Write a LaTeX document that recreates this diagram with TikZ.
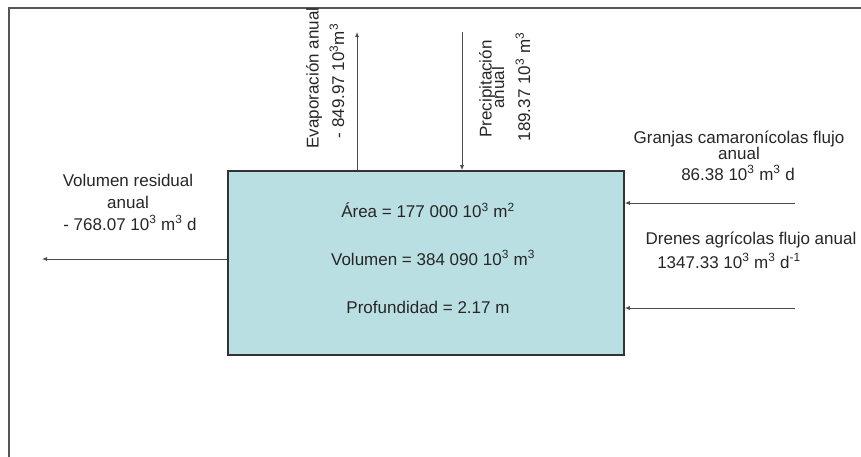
\documentclass[tikz,border=0pt]{standalone}
\usepackage{fontspec}
\setmainfont{Liberation Sans}
\usetikzlibrary{arrows.meta}
\definecolor{boxfill}{HTML}{B9DFE3}
\definecolor{framec}{HTML}{555555}
\begin{document}
\begin{tikzpicture}[x=1pt,y=-1pt,
  lbl/.style={inner sep=0pt,font=\fontsize{17}{19}\selectfont,text=black!85},
  flow/.style={draw=black!70,line width=0.8pt,-{Latex[length=5pt,width=4pt]}}]
\useasboundingbox (0,0) rectangle (861,457);
\draw[framec,line width=1.5pt] (9,457) -- (9,8) -- (861,8);
\node[draw=black!80,line width=1.5pt,fill=boxfill,minimum width=396pt,minimum height=184pt,inner sep=0pt] (box) at (426,263) {};
\node[lbl] (area) at (428,210) {Área = 177 000 10\textsuperscript{3} m\textsuperscript{2}};
\node[lbl] (vol) at (433,258) {Volumen = 384 090 10\textsuperscript{3} m\textsuperscript{3}};
\node[lbl] (prof) at (428,307) {Profundidad = 2.17 m};
% evaporation
\coordinate (evtop) at (357,32);
\draw[flow] (box.north -| evtop) -- (evtop);
\node[lbl,rotate=90] (ev1) at (314,78) {Evaporación anual};
\node[lbl,rotate=90] (ev2) at (337,81) {- 849.97 10\textsuperscript{3}m\textsuperscript{3}};
% precipitation
\coordinate (prtop) at (462,32);
\draw[flow] (prtop) -- (box.north -| prtop);
\node[lbl,rotate=90] (pr1) at (487,89) {Precipitación};
\node[lbl,rotate=90] (pr2) at (498,88) {anual};
\node[lbl,rotate=90] (pr3) at (523,87) {189.37 10\textsuperscript{3} m\textsuperscript{3}};
% residual
\coordinate (resend) at (42,259);
\draw[flow] (box.west |- resend) -- (resend);
\node[lbl] (res1) at (128,180) {Volumen residual};
\node[lbl] (res2) at (128,202) {anual};
\node[lbl] (res3) at (130,223) {- 768.07 10\textsuperscript{3} m\textsuperscript{3} d};
% granjas
\coordinate (grstart) at (795,203);
\draw[flow] (grstart) -- (box.east |- grstart);
\node[lbl] (gr1) at (739,139) {Granjas camaronícolas flujo};
\node[lbl] (gr2) at (739,153) {anual};
\node[lbl] (gr3) at (738,173) {86.38 10\textsuperscript{3} m\textsuperscript{3} d};
% drenes
\coordinate (drstart) at (795,308);
\draw[flow] (drstart) -- (box.east |- drstart);
\node[lbl] (dr1) at (751,240) {Drenes agrícolas flujo anual};
\node[lbl] (dr2) at (729,261) {1347.33 10\textsuperscript{3} m\textsuperscript{3} d\textsuperscript{-1}};
\end{tikzpicture}
\end{document}
